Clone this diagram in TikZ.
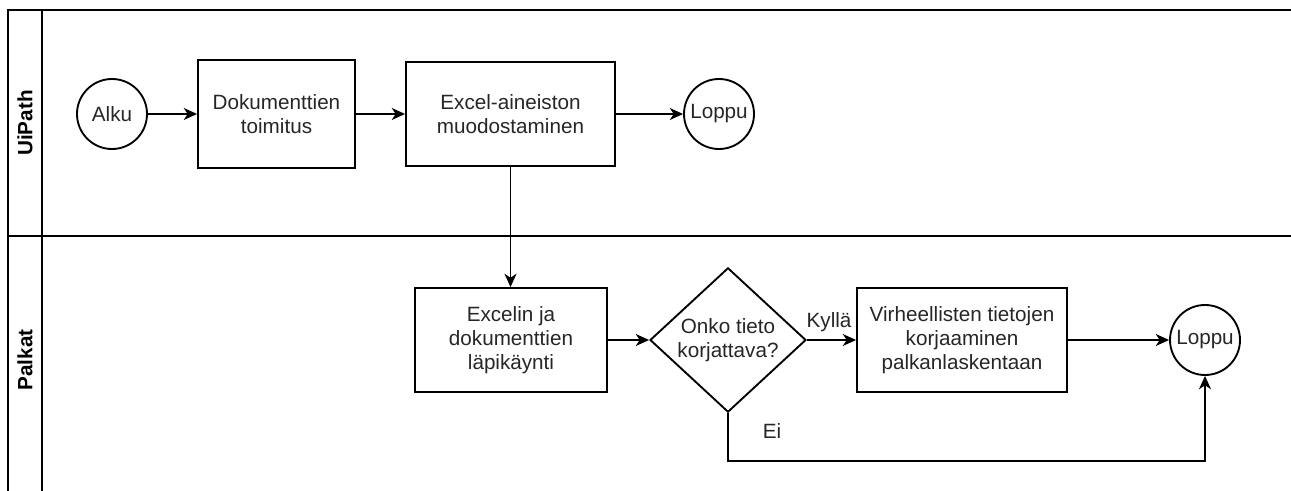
\documentclass[tikz,border=0pt]{standalone}
\usepackage{fontspec}
\setmainfont{Liberation Sans}
\usetikzlibrary{shapes.geometric,arrows.meta}
\begin{document}
\begin{tikzpicture}[x=0.75pt,y=-0.75pt,
  every node/.style={font=\fontsize{15.5}{18}\selectfont, text=black!85},
  lane/.style={line width=1.5pt, draw=black},
  proc/.style={draw, line width=1.4pt, rectangle, align=center, inner sep=0pt},
  event/.style={draw, line width=1.4pt, circle, minimum size=52.5pt, inner sep=0pt},
  decision/.style={draw, line width=1.4pt, diamond, minimum width=117pt, minimum height=103.5pt, inner sep=0pt, align=center},
  flow/.style={line width=1.4pt, -{Stealth[length=10pt,width=9pt,inset=3pt]}},
  lanelabel/.style={rotate=90, font=\fontsize{15.5}{18}\selectfont\bfseries, text=black}
]
\useasboundingbox (0,0) rectangle (1291,491);

% swimlane frame
\draw[lane] (1291,10) -- (8,10) -- (8,491);
\draw[lane] (42,10) -- (42,491);
\draw[lane] (8,236) -- (1291,236);
\node[lanelabel] (laneA) at (25,123) {UiPath};
\node[lanelabel] (laneB) at (25,360) {Palkat};

% UiPath lane
\node[event] (alku) at (112,114) {Alku};
\node[proc, minimum width=117.75pt, minimum height=81pt] (doc) at (276.5,114) {Dokumenttien\\toimitus};
\node[proc, minimum width=156.75pt, minimum height=78pt] (excel) at (510.5,114) {Excel-aineiston\\muodostaminen};
\node[event] (loppuA) at (719,114) {Loppu};

% Palkat lane
\node[proc, minimum width=144pt, minimum height=78pt] (check) at (511,340) {Excelin ja\\dokumenttien\\läpikäynti};
\node[decision] (dec) at (728,340) {Onko tieto\\korjattava?};
\node[proc, minimum width=157.5pt, minimum height=78pt] (fix) at (962,340) {Virheellisten tietojen\\korjaaminen\\palkanlaskentaan};
\node[event] (loppuB) at (1205,340) {Loppu};

% connectors
\draw[flow] (alku) -- (doc);
\draw[flow] (doc) -- (excel);
\draw[flow] (excel) -- (loppuA);
\draw[flow] (excel.south) -- (excel.south |- check.north);
\draw[flow] (check) -- (dec);
\draw[flow] (dec) -- node[pos=0.45, above=2pt] (yes) {Kyllä} (fix);
\draw[flow] (fix) -- (loppuB);
\coordinate (bend) at (728,461);
\draw[flow] (dec.south) -- (bend) -| (loppuB.south);
\node (no) at (772,431) {Ei};
\end{tikzpicture}
\end{document}
